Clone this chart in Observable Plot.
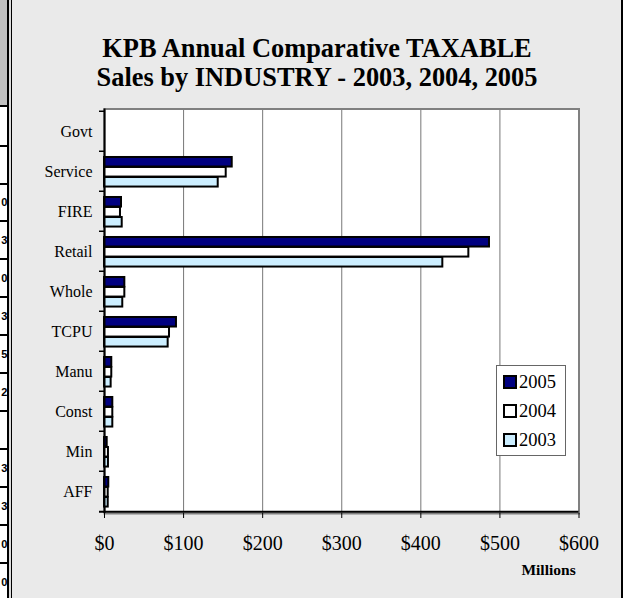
<!DOCTYPE html>
<html>
<head>
<meta charset="utf-8">
<script src="https://cdn.jsdelivr.net/npm/d3@7"></script>
<script src="https://cdn.jsdelivr.net/npm/@observablehq/plot@0.6"></script>
<style>
  body { margin: 0; background: #fff; }
  #page { position: relative; width: 628px; height: 598px; overflow: hidden; font-family: "Liberation Serif", "Times New Roman", serif; }
  #strip { position: absolute; left: 0; top: 0; width: 7.3px; height: 598px; background: #fff; overflow: hidden; }
  #strip .hdr { position: absolute; left: 0; top: 0; width: 100%; height: 105px; background: #c0c0c0; }
  #strip .cell { position: absolute; left: 0; width: 100%; border-top: 2px solid #000; box-sizing: border-box; }
  #strip .cell span { position: absolute; right: 0; top: 0; font: bold 11px "Liberation Sans", Arial, sans-serif; white-space: nowrap; }
  #sep1 { position: absolute; left: 7.3px; top: 0; width: 1.5px; height: 598px; background: #000; }
  #sep2 { position: absolute; left: 8.8px; top: 0; width: 2px; height: 598px; background: #dcdcdc; }
  #frame { position: absolute; left: 10.8px; top: -3px; width: 609.2px; height: 610px; background: #eaeaea; border-left: 1.4px solid #000; border-right: 2px solid #000; }
  #title { position: absolute; left: 11px; top: 33.5px; width: 612px; text-align: center; font-weight: bold; font-size: 26.4px; line-height: 29px; color: #000; white-space: nowrap; }
  #plot { position: absolute; left: 0; top: 100px; }
  #units { position: absolute; left: 420px; top: 561px; width: 155.7px; text-align: right; font-weight: bold; font-size: 15.5px; line-height: 18px; }
  #legend { position: absolute; left: 496px; top: 365px; width: 68px; height: 89px; background: #fff; border: 1px solid #666; font-family: "Liberation Serif", "Times New Roman", serif; }
  #legend .item { position: absolute; left: 6px; height: 20px; display: flex; align-items: center; font-size: 18.5px; font-family: "Liberation Serif", "Times New Roman", serif; }
  #legend .sw { width: 10px; height: 10px; border: 2px solid #000; margin-right: 2px; }
</style>
</head>
<body>
<div id="page">
  <div id="strip"><div class="hdr"></div></div>
  <div id="sep1"></div>
  <div id="sep2"></div>
  <div id="frame"></div>
  <div id="title">KPB Annual Comparative TAXABLE<br>Sales by INDUSTRY - 2003, 2004, 2005</div>
  <div id="plot"></div>
  <div id="units">Millions</div>
  <div id="legend"></div>
</div>
<script>
// ---- chart data ----
const industries = ["Govt", "Service", "FIRE", "Retail", "Whole", "TCPU", "Manu", "Const", "Min", "AFF"];
const sales2005 = [0, 161.5, 21.5, 486.8, 25.7, 91.0, 9.2, 10.5, 3.4, 5.4];
const sales2004 = [0, 153.9, 20.2, 460.7, 25.7, 82.2, 9.2, 10.5, 5.0, 4.7];
const sales2003 = [0, 143.8, 22.4, 427.8, 23.1, 80.5, 8.4, 10.5, 5.0, 4.7];
const years = ["2005", "2004", "2003"];
const yearColors = ["#000080", "#ffffff", "#cceeff"];
const xTicks = [0, 100, 200, 300, 400, 500, 600];
const xUnits = "Millions";

// fragment of neighbouring spreadsheet at left edge
const stripBorders = [105, 145, 183, 220, 258, 296, 334, 372, 410, 448, 486, 524, 562, 600];
const stripDigits = ["", "", "0", "3", "0", "3", "5", "2", "", "3", "3", "0", "0"];

const strip = document.getElementById("strip");
stripDigits.forEach((t, i) => {
  const c = document.createElement("div");
  c.className = "cell";
  c.style.top = stripBorders[i] + "px";
  c.style.height = (stripBorders[i + 1] - stripBorders[i]) + "px";
  const s = document.createElement("span");
  s.textContent = t;
  s.style.lineHeight = (stripBorders[i + 1] - stripBorders[i] - 2) + "px";
  c.appendChild(s);
  strip.appendChild(c);
});

const salesByYear = {"2005": sales2005, "2004": sales2004, "2003": sales2003};
const rows = industries.flatMap((ind, i) => years.map(yr => ({industry: ind, year: yr, value: salesByYear[yr][i]})));

const W = 628, H = 498, mT = 8.5, mB = 85, mL = 104, mR = 49.5;
const bw = (H - mT - mB) / industries.length;
const unitsPerPx = (xTicks[xTicks.length - 1] - xTicks[0]) / (W - mL - mR);
const slots = [[0.148, 0.395], [0.395, 0.643], [0.643, 0.89]];

const chart = Plot.plot({
  width: W, height: H,
  marginTop: mT, marginBottom: mB, marginLeft: mL, marginRight: mR,
  style: {background: "transparent", fontFamily: '"Liberation Serif", "Times New Roman", serif', color: "#000"},
  x: {domain: [xTicks[0], xTicks[xTicks.length - 1]], axis: null},
  y: {domain: industries, padding: 0, axis: null},
  marks: [
    Plot.frame({fill: "#fff"}),
    Plot.ruleX(xTicks, {stroke: "#777", strokeWidth: 1}),
    Plot.frame({stroke: "#808080", strokeWidth: 2}),
    ...years.map((yr, k) => Plot.barX(rows.filter(d => d.year === yr && d.value > 0), {
      y: "industry", x: "value", fill: yearColors[k], stroke: "#000", strokeWidth: 2,
      insetTop: slots[k][0] * bw, insetBottom: (1 - slots[k][1]) * bw
    })),
    Plot.ruleX([xTicks[0]], {stroke: "#000", strokeWidth: 2}),
    Plot.ruleY(industries, {y: d => d, dy: -bw / 2, x1: xTicks[0] - 5 * unitsPerPx, x2: xTicks[0], stroke: "#000", strokeWidth: 1.5}),
    Plot.ruleY(industries.slice(-1), {y: d => d, dy: bw / 2, x1: xTicks[0] - 5 * unitsPerPx, x2: xTicks[xTicks.length - 1], stroke: "#000", strokeWidth: 2}),
    Plot.axisX(xTicks, {tickSize: 5, tickPadding: 17, tickFormat: d => "$" + d, fontSize: 20, stroke: "#000", label: null}),
    Plot.axisY({tickSize: 0, tickPadding: 12, fontSize: 16, label: null})
  ]
});
document.getElementById("plot").appendChild(chart);
document.getElementById("units").textContent = xUnits;

const legend = document.getElementById("legend");
years.forEach((yr, k) => {
  const it = document.createElement("div");
  it.className = "item";
  it.style.top = (6 + k * 29) + "px";
  const sw = document.createElement("span");
  sw.className = "sw";
  sw.style.background = yearColors[k];
  const tx = document.createElement("span");
  tx.textContent = yr;
  it.appendChild(sw); it.appendChild(tx);
  legend.appendChild(it);
});
</script>
</body>
</html>
